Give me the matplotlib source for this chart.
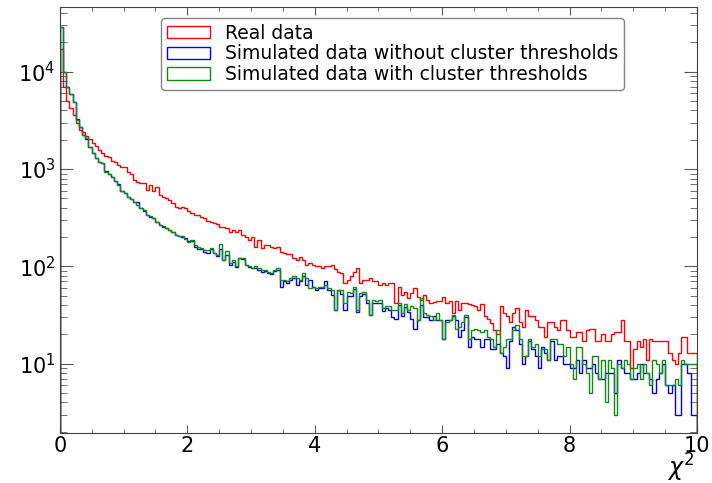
import matplotlib
matplotlib.use('Agg')
import matplotlib.pyplot as plt
from matplotlib.ticker import MultipleLocator
import numpy as np

# bin edges of the chi2 histogram (200 bins, width 0.05)
bin_edges = np.linspace(0, 10, 201)

# counts per bin
real_data = [
    17000, 7000, 5000, 4270, 3570, 2950, 2500, 2400, 2200, 2030,
    1860, 1720, 1560, 1470, 1350, 1320, 1200, 1180, 1100, 1050,
    1040, 935, 890, 780, 740, 720, 715, 610, 690, 600,
    660, 540, 520, 505, 480, 450, 410, 400, 410, 395,
    373, 356, 337, 337, 324, 312, 295, 288, 277, 274,
    256, 256, 246, 228, 236, 228, 236, 210, 202, 186,
    199, 160, 186, 154, 166, 166, 160, 154, 160, 142,
    136, 134, 134, 121, 117, 126, 117, 104,
    108, 104, 100, 100, 96, 101, 100, 104, 95, 88,
    85, 67, 73, 79, 88, 96, 67, 73, 73, 76,
    70, 70, 65, 67, 65, 67, 67, 42, 62, 51,
    55, 47, 53, 60, 49, 45, 51, 45, 42,
    43, 44, 44, 49, 42, 44, 33, 44, 36, 42,
    42, 41, 40, 39, 36, 41, 31, 29, 26, 22,
    20, 39, 33, 31, 27, 33, 37, 27, 24, 36,
    31, 31, 28, 24, 24, 19, 27, 27, 24, 22, 28,
    28, 22, 19, 19, 21, 21, 17, 22, 23, 23,
    17, 17, 20, 17, 17, 20, 21, 21, 28, 17,
    17, 9, 14, 17, 15, 18, 11, 18, 17, 17,
    17, 17, 17, 13, 11, 10, 13, 19, 19, 13, 13, 13,
]

sim_no_thr = [
    29000, 10000, 6900, 5900, 4900, 3300, 2700, 2240, 2050, 1700,
    1470, 1300, 1190, 1150, 960, 880, 830, 760, 700, 590,
    570, 520, 490, 460, 460, 400, 370, 340, 325, 315,
    287, 266, 255, 247, 235, 225, 210, 203, 200, 195,
    182, 184, 160, 150, 150, 140, 136, 150, 136, 128,
    150, 117, 130, 104, 112, 98, 121, 118, 104, 98,
    96, 96, 92, 88, 90, 86, 83, 90, 92, 62,
    70, 68, 72, 76, 65, 70, 80, 65,
    73, 62, 57, 60, 60, 70, 57, 51, 36, 57,
    52, 36, 50, 50, 58, 34, 50, 52, 42, 32,
    42, 42, 42, 35, 37, 36, 30, 29, 40, 31,
    38, 34, 29, 23, 28, 40, 30, 30, 28,
    31, 28, 28, 18, 28, 28, 31, 28, 19, 22,
    30, 15, 19, 18, 18, 15, 18, 18, 14, 14,
    16, 13, 12, 9, 17, 24, 22, 16, 10, 12,
    17, 14, 12, 9, 15, 13, 11, 17, 11, 12, 12,
    10, 10, 9, 9, 11, 8, 11, 9, 9, 10,
    8, 7, 7, 8, 8, 8, 5, 11, 9, 8,
    8, 7, 7, 8, 10, 8, 8, 7, 5, 7,
    8, 10, 6, 5, 6, 3, 3, 10, 10, 8, 3, 3,
]

sim_thr = [
    29000, 10000, 6900, 5900, 4900, 3200, 2700, 2240, 2100, 1700,
    1470, 1300, 1190, 1150, 940, 900, 830, 760, 690, 600,
    570, 520, 490, 460, 427, 400, 380, 340, 330, 315,
    287, 266, 260, 247, 235, 228, 210, 203, 205, 190,
    180, 187, 166, 160, 154, 147, 147, 154, 136, 131,
    170, 117, 145, 108, 117, 100, 121, 121, 104, 100,
    96, 100, 96, 92, 92, 88, 85, 92, 96, 73,
    73, 70, 76, 79, 76, 73, 85, 76,
    60, 62, 60, 62, 61, 65, 60, 57, 36, 57,
    57, 42, 55, 53, 62, 36, 53, 55, 45, 32,
    45, 44, 45, 37, 39, 39, 36, 36, 42, 33,
    41, 36, 39, 37, 28, 47, 33, 32, 31,
    28, 33, 28, 18, 27, 28, 32, 23, 24, 27,
    32, 18, 22, 23, 22, 21, 22, 19, 18, 15,
    22, 13, 15, 18, 18, 22, 25, 18, 12, 12,
    18, 15, 16, 12, 14, 14, 11, 18, 18, 16, 16,
    12, 15, 10, 7, 15, 15, 10, 8, 5, 12,
    12, 7, 11, 4, 11, 9, 3, 10, 9, 11,
    10, 7, 9, 10, 7, 10, 8, 6, 11, 10,
    8, 11, 6, 6, 6, 7, 6, 11, 10, 10, 10, 10,
]

labels = ['Real data',
          'Simulated data without cluster thresholds',
          'Simulated data with cluster thresholds']
colors = ['#ff0000', '#0000ff', '#108a10']

fig, ax = plt.subplots(figsize=(7.12, 4.83), dpi=100)
fig.subplots_adjust(left=0.084, right=0.979, bottom=0.103, top=0.985)

centers = 0.5 * (bin_edges[:-1] + bin_edges[1:])
for vals, lab, col in zip([real_data, sim_no_thr, sim_thr], labels, colors):
    ax.hist(centers, bins=bin_edges, weights=vals, histtype='step',
            color=col, linewidth=1.0, log=True, label=lab)

ax.set_xlim(0, 10)
ax.set_ylim(1.93, 4.6e4)

ax.xaxis.set_major_locator(MultipleLocator(2))
ax.xaxis.set_minor_locator(MultipleLocator(0.5))
ax.tick_params(which='both', direction='in', top=True, right=True, colors='0.35',
               labelcolor='black', labelsize=15)
ax.tick_params(axis='y', which='major', length=9.5, pad=3)
ax.tick_params(axis='y', which='minor', length=5)
ax.tick_params(axis='x', which='major', length=6, pad=2)
ax.tick_params(axis='x', which='minor', length=3)
for sp in ax.spines.values():
    sp.set_color('0.25')

# chi2 label sits under the right end of the axis, below the "10"
fig.text(0.975, 0.013, r'$\chi^2$', ha='right', va='baseline', fontsize=17)

leg = ax.legend(loc='upper center', bbox_to_anchor=(0.522, 0.997), fontsize=13.5,
                labelspacing=0.1, borderpad=0.3, handlelength=2.3,
                handleheight=0.65, handletextpad=0.8, fancybox=True)
leg.get_frame().set_edgecolor('0.4')

fig.savefig('out.png', dpi=100)
